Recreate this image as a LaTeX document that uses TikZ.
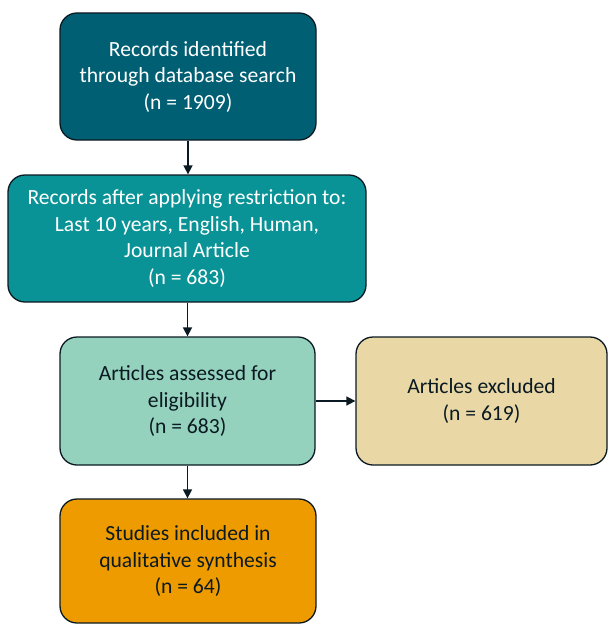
\documentclass[tikz,border=0pt]{standalone}
\usepackage{fontspec}
\setmainfont{Carlito}
\usetikzlibrary{arrows.meta}
\definecolor{cA}{HTML}{005F73}
\definecolor{cB}{HTML}{0A9396}
\definecolor{cC}{HTML}{94D2BD}
\definecolor{cD}{HTML}{E9D8A6}
\definecolor{cE}{HTML}{EE9B00}
\definecolor{ink}{HTML}{0B1A22}
\tikzset{
  flowbox/.style={draw=ink, line width=1.3pt, rounded corners=17pt, align=center,
    inner sep=0pt, font=\fontsize{21.6}{26.5}\selectfont},
  flowarrow/.style={draw=ink, line width=1.6pt, -{Triangle[width=9pt,length=9pt]}}
}
\begin{document}
\begin{tikzpicture}[x=1pt,y=-1pt]
\useasboundingbox (0,0) rectangle (608,626);
\node[flowbox, fill=cA, text=white, minimum width=256pt, minimum height=127pt] (b1) at (188,76.5)
  {Records identified\\through database search\\(n = 1909)};
\node[flowbox, fill=cB, text=white, minimum width=358pt, minimum height=127pt] (b2) at (187,238.5)
  {Records after applying restriction to:\\Last 10 years, English, Human,\\Journal Article\\(n = 683)};
\node[flowbox, fill=cC, text=ink, minimum width=255pt, minimum height=128pt] (b3) at (187.5,401)
  {Articles assessed for\\eligibility\\(n = 683)};
\node[flowbox, fill=cD, text=ink, minimum width=251pt, minimum height=128pt] (b4) at (481.5,401)
  {Articles excluded\\(n = 619)};
\node[flowbox, fill=cE, text=ink, minimum width=256pt, minimum height=124pt] (b5) at (188,561)
  {Studies included in\\qualitative synthesis\\(n = 64)};
\draw[flowarrow] (b1.south) -- (b2.north -| b1.south);
\draw[flowarrow] (b2.south -| b3.north) -- (b3.north);
\draw[flowarrow] (b3.south) -- (b5.north -| b3.south);
\draw[flowarrow] (b3.east) -- (b4.west);
\end{tikzpicture}
\end{document}
